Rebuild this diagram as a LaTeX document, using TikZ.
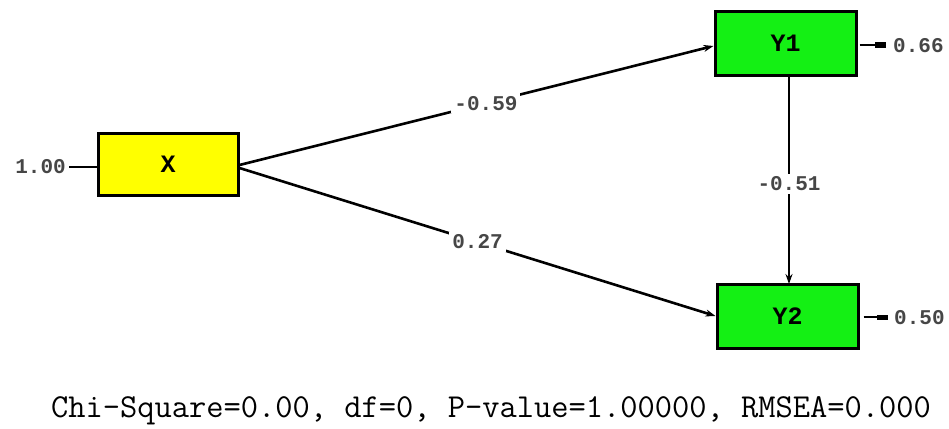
\documentclass[tikz,border=0pt]{standalone}
\usepackage{fontspec}
\newfontfamily\libmono{Liberation Mono}
\usetikzlibrary{arrows.meta}
\definecolor{boxyellow}{RGB}{255,255,0}
\definecolor{boxgreen}{RGB}{20,240,20}
\definecolor{labgray}{RGB}{70,70,70}
\begin{document}
\begin{tikzpicture}[x=1pt,y=-1pt,
  varbox/.style={draw=black,line width=3pt,minimum width=140pt,minimum height=62pt,inner sep=0pt,font=\libmono\bfseries\fontsize{25}{25}\selectfont},
  path/.style={line width=2.6pt,-{Stealth[length=10pt,width=7pt]}},
  coef/.style={fill=white,inner sep=3pt,text=labgray,font=\libmono\bfseries\fontsize{21}{21}\selectfont},
  errlab/.style={text=labgray,anchor=west,inner sep=0pt,font=\libmono\bfseries\fontsize{21}{21}\selectfont},
  errline/.style={line width=2.6pt}]
\useasboundingbox (0,0) rectangle (949,428);
\node[varbox,fill=boxyellow] (X) at (168,164) {X};
\node[varbox,fill=boxgreen,minimum width=141pt,minimum height=63pt] (Y1) at (785.5,43.5) {Y1};
\node[varbox,fill=boxgreen,minimum width=141pt,minimum height=64pt] (Y2) at (787.5,316) {Y2};
% structural paths
\draw[path] (X.east) ++(0,1) coordinate (xs1) -- (Y1.west |- 0,46) node[coef,pos=0.52] {-0.59};
\draw[path] (X.east) ++(0,4) coordinate (xs2) -- (Y2.west |- 0,316) node[coef,pos=0.5] {0.27};
\draw[path] (789,75) coordinate (y1s) -- (789,284) coordinate (y2e) node[coef,pos=0.52] {-0.51};
% error terms
\node[errlab,anchor=east] (ex) at (66,167) {1.00};
\draw[errline] (ex.east) ++(3,0) -- (X.west |- 0,167);
\node[errlab] (e1) at (893,46) {0.66};
\draw[errline] (Y1.east |- 0,45) ++(2,0) coordinate (e1s) -- (886,45) coordinate (e1e);
\draw[line width=6pt] (875,45) -- (e1e);
\node[errlab] (e2) at (894,318) {0.50};
\draw[errline] (Y2.east |- 0,317) ++(4,0) coordinate (e2s) -- (888,317) coordinate (e2e);
\draw[line width=5pt] (877,317) -- (e2e);
% fit statistics
\node[font=\ttfamily\fontsize{33.5}{33.5}\selectfont,text=black] (fit) at (491,411) {Chi-Square=0.00, df=0, P-value=1.00000, RMSEA=0.000};
\end{tikzpicture}
\end{document}
